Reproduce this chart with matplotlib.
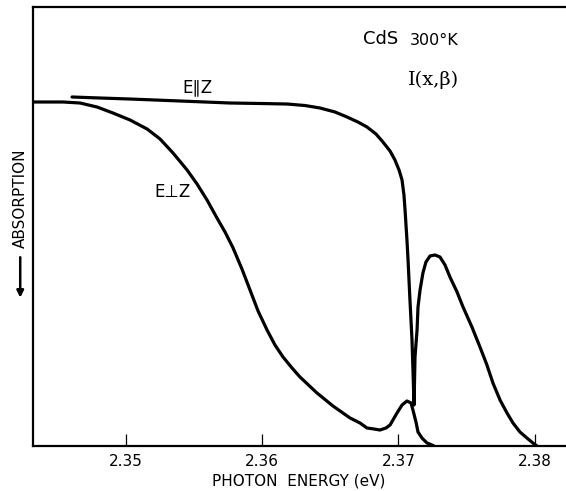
import matplotlib
matplotlib.use("Agg")
import matplotlib.pyplot as plt

# ---- data (photon energy in eV, absorption in arbitrary units, 0 = bottom) ----
perp_energy = [2.34322, 2.34542, 2.34667, 2.34791, 2.34908, 2.35033, 2.35158, 2.35253,
               2.35348, 2.35451, 2.35524, 2.35597, 2.35670, 2.35729, 2.35788, 2.35853,
               2.35912, 2.35971, 2.36037, 2.36095, 2.36154, 2.36220, 2.36278, 2.36403,
               2.36520, 2.36645, 2.36718, 2.36769, 2.36821, 2.36864, 2.36908, 2.36938,
               2.36989, 2.37026, 2.37062, 2.37092, 2.37106, 2.37128, 2.37143, 2.37172,
               2.37209, 2.37245, 2.37260]
perp_signal = [78.36, 78.36, 78.13, 77.22, 75.85, 74.26, 72.21, 69.93,
               66.74, 62.87, 59.68, 56.04, 51.94, 48.75, 45.10, 40.32,
               35.54, 30.75, 26.42, 23.01, 20.27, 17.77, 15.72, 12.07,
               9.11, 6.38, 5.24, 4.10, 3.87, 3.64, 4.10, 4.78,
               7.52, 9.34, 10.25, 9.80, 8.20, 5.47, 3.19, 1.82,
               0.68, 0.23, 0.0]

par_energy = [2.34608, 2.34813, 2.35033, 2.35399, 2.35766, 2.35985, 2.36183, 2.36315,
              2.36425, 2.36535, 2.36623, 2.36703, 2.36769, 2.36835, 2.36886, 2.36938,
              2.36974, 2.37004, 2.37026, 2.37040, 2.37048, 2.37055, 2.37062, 2.37070,
              2.37084, 2.37099, 2.37106, 2.37114, 2.37121, 2.37136, 2.37143, 2.37158,
              2.37179, 2.37201, 2.37231, 2.37267, 2.37304, 2.37341, 2.37377, 2.37429,
              2.37473, 2.37538, 2.37597, 2.37648, 2.37692, 2.37744, 2.37795, 2.37839,
              2.37890, 2.37941, 2.37985, 2.38015]
par_signal = [79.50, 79.27, 79.04, 78.59, 78.13, 78.02, 77.90, 77.56,
              76.99, 76.08, 74.94, 73.80, 72.67, 71.07, 69.25, 67.20,
              65.15, 62.87, 60.59, 57.18, 53.76, 50.34, 46.92, 42.37,
              33.26, 24.15, 17.31, 9.34, 20.27, 26.42, 31.66, 35.54,
              39.41, 41.91, 43.28, 43.51, 43.05, 41.23, 38.50, 35.08,
              31.66, 27.11, 22.55, 18.45, 14.35, 10.48, 7.52, 5.24,
              3.19, 1.82, 0.68, 0.0]

x_ticks = [2.35, 2.36, 2.37, 2.38]
x_tick_labels = ["2.35", "2.36", "2.37", "2.38"]

plt.rcParams['font.family'] = ['DejaVu Sans']

W, H = 566, 491
fig = plt.figure(figsize=(W / 100, H / 100), dpi=100)
ax = fig.add_axes([33 / W, 45 / H, 532 / W, 439 / H])

lw = 2.3
ax.plot(perp_energy, perp_signal, color='black', lw=lw, solid_capstyle='round', solid_joinstyle='round')
ax.plot(par_energy, par_signal, color='black', lw=lw, solid_capstyle='round', solid_joinstyle='round')

ax.set_xlim(2.34322, 2.38220)
ax.set_ylim(0, 100)

ax.set_xticks(x_ticks)
ax.set_xticklabels(x_tick_labels)
ax.tick_params(axis='x', direction='in', length=9, width=0.9, labelsize=11, pad=6)
ax.set_yticks([])

for side in ['left', 'bottom', 'top']:
    ax.spines[side].set_linewidth(1.6)
ax.spines['right'].set_visible(False)

ax.set_xlabel("PHOTON  ENERGY (eV)", fontsize=11, labelpad=3)

# y label with downward arrow
ax.text(-0.023, 0.565, "ABSORPTION", transform=ax.transAxes, rotation=90,
        ha='center', va='center', fontsize=11)
ax.annotate("", xy=(-0.024, 0.338), xytext=(-0.024, 0.43),
            xycoords='axes fraction', textcoords='axes fraction',
            arrowprops=dict(arrowstyle='-|>', color='black', lw=1.8,
                            mutation_scale=10, shrinkA=0, shrinkB=0),
            annotation_clip=False)

# annotations
ax.text(2.36740, 92.6, "CdS", fontsize=13, ha='left', va='center')
ax.text(2.37260, 92.3, "300°K", fontsize=11.5, ha='center', va='center')
ax.text(2.37253, 83.4, "I(x,β)", fontsize=14, ha='center', va='center', family='DejaVu Serif')
ax.text(2.35524, 81.8, "E∥Z", fontsize=12, ha='center', va='center')
ax.text(2.35341, 57.9, "E⊥Z", fontsize=12, ha='center', va='center')

fig.savefig("out.png", dpi=100, facecolor='white')
